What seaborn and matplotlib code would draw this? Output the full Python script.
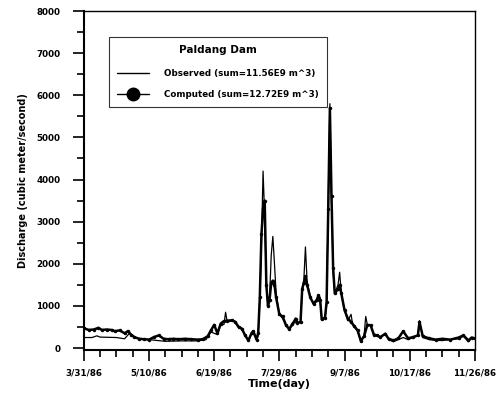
import matplotlib
matplotlib.use("Agg")
import matplotlib.pyplot as plt
from matplotlib.lines import Line2D
from matplotlib.ticker import MultipleLocator
import seaborn as sns
import pandas as pd

# ---- data (day 0 = 3/31/86) ----
obs_day = [0, 5, 8, 10, 20, 25, 28, 30, 33, 40, 45, 50, 60, 70, 75, 78, 80, 82, 84, 86, 87, 88,
           92, 95, 97, 99, 101, 103, 104, 106, 107, 108, 109, 110, 111, 112, 113, 114, 115, 116,
           117, 118, 120, 122, 124, 126, 128, 133, 134, 135, 136, 137, 139, 141, 143, 144, 145,
           146, 148, 149, 150, 151, 152, 153, 154, 156, 157, 158, 160, 162, 164, 165, 166, 168,
           170, 172, 173, 174, 176, 178, 180, 182, 185, 187, 190, 193, 196, 199, 202, 205, 206,
           208, 212, 216, 220, 225, 230, 233, 236, 238, 240]
obs_val = [250, 250, 290, 260, 250, 220, 350, 280, 230, 200, 180, 160, 170, 170, 200, 380, 350,
           320, 550, 560, 850, 620, 650, 480, 450, 300, 180, 350, 380, 200, 300, 1100, 2500,
           4200, 3100, 1500, 1000, 1200, 2200, 2650, 2000, 1300, 800, 700, 550, 450, 600, 600,
           1400, 1600, 2400, 1600, 1200, 1050, 1100, 1250, 1200, 700, 700, 1000, 3500, 5800,
           3500, 1800, 1300, 1500, 1800, 1300, 900, 650, 800, 550, 500, 400, 150, 300, 750, 550,
           550, 300, 280, 250, 350, 200, 150, 200, 250, 200, 250, 300, 650, 250, 200, 180, 180,
           200, 220, 280, 150, 230, 220]

comp_day = [0, 3, 6, 9, 11, 14, 17, 19, 22, 25, 27, 29, 31, 34, 37, 40, 43, 46, 49, 52, 55, 58,
            62, 66, 70, 73, 76, 78, 80, 82, 84, 86, 88, 91, 93, 95, 97, 99, 101, 103, 104, 106,
            107, 108, 109, 110, 111, 112, 113, 114, 115, 116, 117, 118, 120, 122, 124, 126, 128,
            130, 131, 133, 134, 135, 136, 137, 139, 141, 143, 144, 145, 146, 148, 149, 150, 151,
            152, 153, 154, 156, 157, 158, 160, 162, 164, 166, 168, 170, 172, 174, 176, 178, 180,
            182, 185, 187, 190, 193, 196, 199, 202, 205, 206, 208, 212, 216, 220, 225, 230, 233,
            236, 238, 240]
comp_val = [470, 430, 440, 480, 430, 440, 430, 400, 420, 350, 400, 320, 260, 220, 210, 200, 260,
            300, 220, 210, 220, 210, 220, 210, 200, 210, 280, 420, 550, 350, 580, 640, 650, 660,
            620, 500, 460, 300, 180, 360, 400, 200, 350, 1200, 2700, 3300, 3500, 1500, 1000, 1150,
            1550, 1600, 1500, 1200, 800, 750, 550, 450, 560, 700, 600, 620, 1400, 1550, 1700,
            1500, 1200, 1050, 1150, 1250, 1150, 680, 720, 1100, 3300, 5700, 3600, 1900, 1300,
            1400, 1500, 1300, 900, 700, 620, 520, 420, 170, 280, 550, 540, 320, 300, 260, 340,
            220, 180, 230, 400, 230, 260, 300, 620, 280, 230, 200, 220, 200, 250, 300, 180, 250,
            230]

tick_days = [0, 40, 80, 120, 160, 200, 240]
tick_labels = ["3/31/86", "5/10/86", "6/19/86", "7/29/86", "9/7/86", "10/17/86", "11/26/86"]
y_ticks = [0, 1000, 2000, 3000, 4000, 5000, 6000, 7000, 8000]

obs = pd.DataFrame({"day": obs_day, "q": obs_val})
comp = pd.DataFrame({"day": comp_day, "q": comp_val})

sns.set_style("ticks")
plt.rcParams["font.family"] = ["DejaVu Sans"]
plt.rcParams["font.weight"] = "bold"
plt.rcParams["text.color"] = "black"
plt.rcParams["axes.labelcolor"] = "black"
plt.rcParams["xtick.color"] = "black"
plt.rcParams["ytick.color"] = "black"

fig = plt.figure(figsize=(5.02, 3.93), dpi=100)
ax = fig.add_axes([0.167, 0.109, 0.779, 0.863])

sns.lineplot(data=comp, x="day", y="q", ax=ax, color="black", lw=1.8,
             marker="o", markersize=2.5, markeredgewidth=0)
sns.lineplot(data=obs, x="day", y="q", ax=ax, color="black", lw=0.9)

ax.set_xlim(0, 240)
ax.set_ylim(-50, 8000)
ax.set_xticks(tick_days)
ax.set_xticklabels(tick_labels)
ax.xaxis.set_minor_locator(MultipleLocator(10))
ax.set_yticks(y_ticks)
ax.set_yticklabels([str(v) for v in y_ticks])
ax.yaxis.set_minor_locator(MultipleLocator(500))
ax.tick_params(axis="both", which="major", direction="out", length=8, width=1.2,
               labelsize=6.3, color="black", labelcolor="black")
ax.tick_params(axis="y", which="major", pad=9)
ax.tick_params(axis="x", which="major", pad=5)
ax.tick_params(axis="both", which="minor", direction="out", length=5, width=1.2, color="black")
for lab in ax.get_xticklabels() + ax.get_yticklabels():
    lab.set_fontweight("bold")

for s in ["left", "bottom"]:
    ax.spines[s].set_linewidth(1.5)
for s in ["top", "right"]:
    ax.spines[s].set_linewidth(1.0)
for s in ax.spines.values():
    s.set_color("black")

ax.set_xlabel("Time(day)", fontsize=8, fontweight="bold", labelpad=1, color="black")
ax.set_ylabel("Discharge (cubic meter/second)", fontsize=7, fontweight="bold", labelpad=6,
              color="black")

handles = [Line2D([], [], color="black", lw=1.0),
           Line2D([], [], color="black", lw=1.0, marker="o", markersize=9)]
labels = ["Observed (sum=11.56E9 m^3)", "Computed (sum=12.72E9 m^3)"]
leg = ax.legend(handles, labels, title="Paldang Dam", loc="upper left",
                bbox_to_anchor=(0.054, 0.935), frameon=True, fancybox=False,
                edgecolor="black", fontsize=6.3, title_fontsize=7.5,
                handlelength=3.6, labelspacing=1.4, borderpad=0.9, handletextpad=1.8)
leg.get_frame().set_linewidth(0.8)
leg.get_title().set_fontweight("bold")
leg.get_title().set_color("black")
leg._legend_box.sep = 10
for t in leg.get_texts():
    t.set_fontweight("bold")
    t.set_color("black")

fig.savefig("out.png", dpi=100)
